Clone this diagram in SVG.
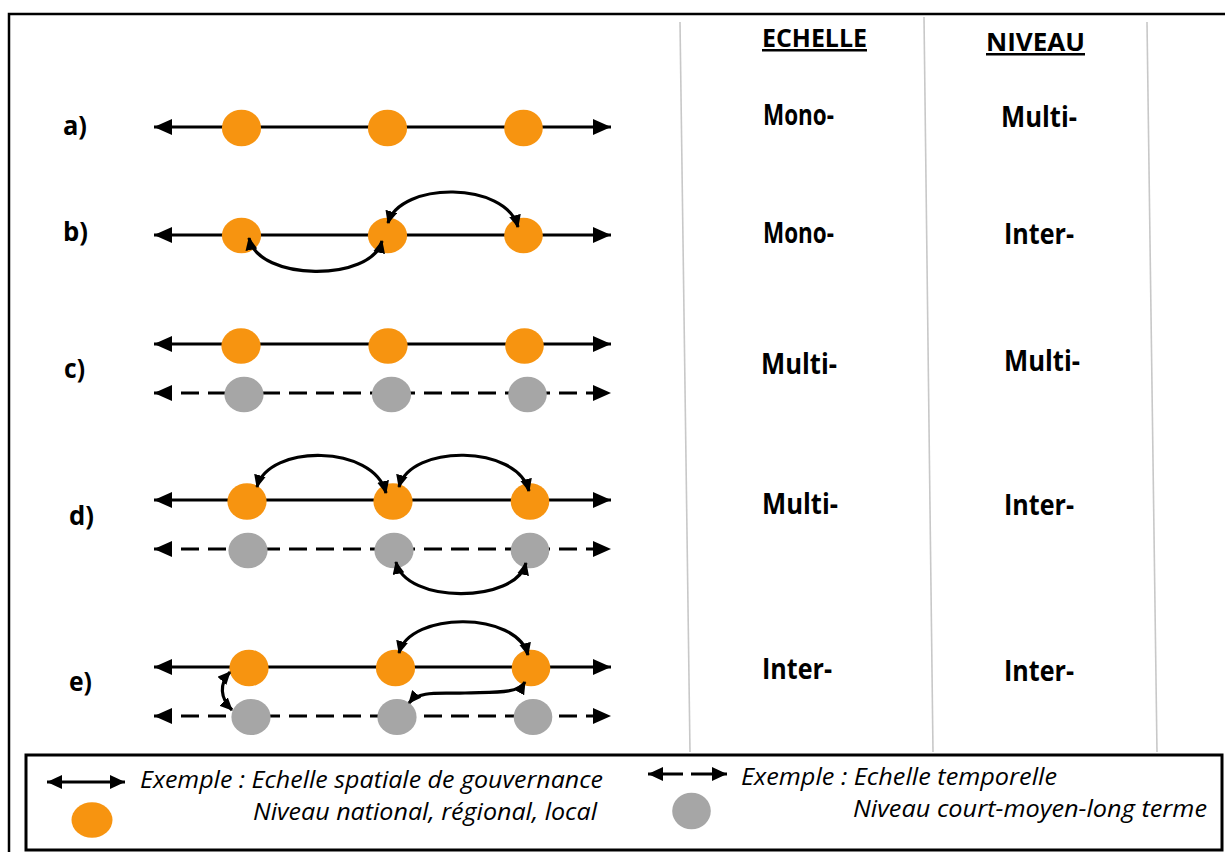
<svg xmlns="http://www.w3.org/2000/svg" width="1225" height="852" viewBox="0 0 1225 852">
<style>
.ln{stroke:#000;stroke-width:3;fill:none}
.dash{stroke-dasharray:18 9}
.arc{stroke:#000;stroke-width:3.2;fill:none;marker-start:url(#ah);marker-end:url(#ah)}
.o{fill:#F79410}
.g{fill:#A6A6A6}
.col{stroke:#C8C8C8;stroke-width:1.6}
.lbl{font-family:"Open Sans","Liberation Sans",sans-serif;font-weight:700;font-size:27px;fill:#000}
.hd{font-family:"Open Sans","Liberation Sans",sans-serif;font-weight:700;font-size:25px;fill:#000;text-decoration:underline}
.val{font-family:"Open Sans","Liberation Sans",sans-serif;font-weight:700;font-size:29px;fill:#000}
.lg{font-family:"Open Sans","Liberation Sans",sans-serif;font-style:italic;font-size:23px;fill:#000}
</style>
<defs>
<marker id="bh" markerUnits="userSpaceOnUse" markerWidth="18" markerHeight="16" refX="18" refY="8" orient="auto-start-reverse"><path d="M0,0 L18,8 L0,16 z" fill="#000"/></marker>
<marker id="lh" markerUnits="userSpaceOnUse" markerWidth="15" markerHeight="14" refX="15" refY="7" orient="auto-start-reverse"><path d="M0,0 L15,7 L0,14 z" fill="#000"/></marker>
<marker id="ah" markerUnits="userSpaceOnUse" markerWidth="13" markerHeight="12" refX="12" refY="6" orient="auto-start-reverse"><path d="M0,0 L13,6 L0,12 z" fill="#000"/></marker>
</defs>
<rect x="0" y="0" width="1225" height="852" fill="#fff"/>
<rect x="9" y="14" width="1218" height="845" fill="none" stroke="#000" stroke-width="2.5"/>
<g id="columns">
<line class="col" x1="680" y1="22" x2="690" y2="752"/>
<line class="col" x1="924" y1="17" x2="933" y2="752"/>
<line class="col" x1="1147" y1="22" x2="1157" y2="752"/>
</g>
<g id="axes">
<path class="ln" d="M154,127 L611,127" marker-start="url(#bh)" marker-end="url(#bh)"/>
<path class="ln" d="M154,235 L611,235" marker-start="url(#bh)" marker-end="url(#bh)"/>
<path class="ln" d="M154,344 L611,344" marker-start="url(#bh)" marker-end="url(#bh)"/>
<path class="ln dash" d="M154,393 L611,393" marker-start="url(#bh)" marker-end="url(#bh)"/>
<path class="ln" d="M154,500 L611,500" marker-start="url(#bh)" marker-end="url(#bh)"/>
<path class="ln dash" d="M154,549 L611,549" marker-start="url(#bh)" marker-end="url(#bh)"/>
<path class="ln" d="M154,667 L611,667" marker-start="url(#bh)" marker-end="url(#bh)"/>
<path class="ln dash" d="M154,716 L611,716" marker-start="url(#bh)" marker-end="url(#bh)"/>
</g>
<g id="row-a">
<ellipse id="a1" class="o" cx="241.5" cy="128" rx="19.6" ry="18.3"/>
<ellipse id="a2" class="o" cx="387.5" cy="128" rx="19.6" ry="18.3"/>
<ellipse id="a3" class="o" cx="523.5" cy="128" rx="19.3" ry="18.3"/>
</g>
<g id="row-b">
<ellipse id="b1" class="o" cx="241.5" cy="235.5" rx="19.6" ry="17.8"/>
<ellipse id="b2" class="o" cx="387.5" cy="235.5" rx="19.6" ry="17.8"/>
<ellipse id="b3" class="o" cx="523.5" cy="235.5" rx="19.3" ry="17.8"/>
</g>
<g id="row-c">
<ellipse id="c1" class="o" cx="241" cy="346" rx="19.6" ry="17.8"/>
<ellipse id="c2" class="o" cx="388" cy="346" rx="19.6" ry="17.8"/>
<ellipse id="c3" class="o" cx="524.5" cy="346" rx="19.3" ry="17.8"/>
<ellipse id="c4" class="g" cx="244" cy="394.5" rx="19.6" ry="17.8"/>
<ellipse id="c5" class="g" cx="391.5" cy="394.5" rx="19.6" ry="17.8"/>
<ellipse id="c6" class="g" cx="527.5" cy="394.5" rx="19.3" ry="17.8"/>
</g>
<g id="row-d">
<ellipse id="d1" class="o" cx="247" cy="501.5" rx="19.6" ry="18.3"/>
<ellipse id="d2" class="o" cx="393" cy="501.5" rx="19.6" ry="18.3"/>
<ellipse id="d3" class="o" cx="530" cy="501.5" rx="19.3" ry="18.3"/>
<ellipse id="d4" class="g" cx="248" cy="550.5" rx="19.6" ry="17.8"/>
<ellipse id="d5" class="g" cx="394" cy="550.5" rx="19.6" ry="17.8"/>
<ellipse id="d6" class="g" cx="530" cy="550.5" rx="19.3" ry="17.8"/>
</g>
<g id="row-e">
<ellipse id="e1" class="o" cx="249" cy="668" rx="19.6" ry="18.3"/>
<ellipse id="e2" class="o" cx="395.5" cy="668" rx="19.6" ry="18.3"/>
<ellipse id="e3" class="o" cx="531" cy="668" rx="19.3" ry="18.3"/>
<ellipse id="e4" class="g" cx="251" cy="717" rx="19.6" ry="18"/>
<ellipse id="e5" class="g" cx="397" cy="717" rx="19.6" ry="18"/>
<ellipse id="e6" class="g" cx="533" cy="717" rx="19.3" ry="18"/>
</g>
<g id="connectors">
<path class="arc" d="M388,223 C400,181 506,181 518,227"/>
<path class="arc" d="M249,238 C258,282 372,282 382,241"/>
<path class="arc" d="M257,487 C268,444 374,444 386,493"/>
<path class="arc" d="M399,487 C410,444 517,444 529,491"/>
<path class="arc" d="M396,562 C405,604 516,604 526,563"/>
<path class="arc" d="M399,653 C410,611 517,611 528,655"/>
<path class="arc" d="M230,672 C219,684 220,698 232,710"/>
<path class="arc" d="M409,703 C420,690 440,694 465,693 C495,692 518,694 525,682"/>
</g>
<g id="row-labels">
<text class="lbl" x="63" y="135" textLength="24" lengthAdjust="spacingAndGlyphs">a)</text>
<text class="lbl" x="63" y="241" textLength="25" lengthAdjust="spacingAndGlyphs">b)</text>
<text class="lbl" x="64" y="378" textLength="21" lengthAdjust="spacingAndGlyphs">c)</text>
<text class="lbl" x="69" y="525" textLength="25" lengthAdjust="spacingAndGlyphs">d)</text>
<text class="lbl" x="69" y="691" textLength="23" lengthAdjust="spacingAndGlyphs">e)</text>
</g>
<g id="headers">
<text class="hd" x="762" y="47" textLength="105" lengthAdjust="spacingAndGlyphs">ECHELLE</text>
<text class="hd" x="986" y="51" textLength="99" lengthAdjust="spacingAndGlyphs">NIVEAU</text>
</g>
<g id="echelle-values">
<text class="val" x="763" y="125" textLength="71" lengthAdjust="spacingAndGlyphs">Mono-</text>
<text class="val" x="763" y="243" textLength="71" lengthAdjust="spacingAndGlyphs">Mono-</text>
<text class="val" x="761" y="374" textLength="76" lengthAdjust="spacingAndGlyphs">Multi-</text>
<text class="val" x="762" y="514" textLength="76" lengthAdjust="spacingAndGlyphs">Multi-</text>
<text class="val" x="762" y="679" textLength="70" lengthAdjust="spacingAndGlyphs">Inter-</text>
</g>
<g id="niveau-values">
<text class="val" x="1001" y="127" textLength="76" lengthAdjust="spacingAndGlyphs">Multi-</text>
<text class="val" x="1004" y="244" textLength="70" lengthAdjust="spacingAndGlyphs">Inter-</text>
<text class="val" x="1004" y="371" textLength="76" lengthAdjust="spacingAndGlyphs">Multi-</text>
<text class="val" x="1004" y="515" textLength="70" lengthAdjust="spacingAndGlyphs">Inter-</text>
<text class="val" x="1004" y="681" textLength="70" lengthAdjust="spacingAndGlyphs">Inter-</text>
</g>
<g id="legend">
<rect x="26" y="755" width="1196" height="95" fill="#fff" stroke="#000" stroke-width="3"/>
<path class="ln" d="M47,782 L125,782" stroke-width="2.5" marker-start="url(#lh)" marker-end="url(#lh)"/>
<ellipse id="leg-orange" class="o" cx="92" cy="820" rx="20.5" ry="17.8"/>
<path class="ln" d="M683,774 L648,774" stroke-width="2.5" marker-end="url(#lh)"/>
<path class="ln" d="M691,774 L727,774" stroke-width="2.5" marker-end="url(#lh)"/>
<ellipse id="leg-grey" class="g" cx="691.5" cy="811" rx="19.3" ry="18.3"/>
<text class="lg" x="140" y="788" textLength="463" lengthAdjust="spacingAndGlyphs">Exemple : Echelle spatiale de gouvernance</text>
<text class="lg" x="253" y="820" textLength="344" lengthAdjust="spacingAndGlyphs">Niveau national, régional, local</text>
<text class="lg" x="741" y="785" textLength="316" lengthAdjust="spacingAndGlyphs">Exemple : Echelle temporelle</text>
<text class="lg" x="853" y="817" textLength="354" lengthAdjust="spacingAndGlyphs">Niveau court-moyen-long terme</text>
</g>
</svg>
